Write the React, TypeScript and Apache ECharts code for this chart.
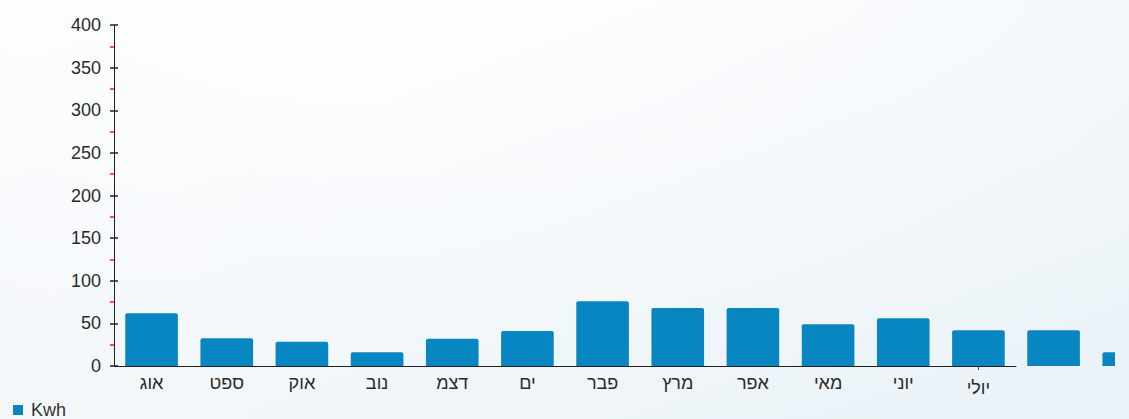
import React, { useEffect, useRef } from "react";
import * as echarts from "echarts";

const months = ["אוג", "ספט", "אוק", "נוב", "דצמ", "ים", "פבר", "מרץ", "אפר", "מאי", "יוני", "יולי"];
const barCategories = [...months, "13", "14"];
const kwh = [62, 32.5, 28.5, 16, 32, 41, 76, 68, 68, 49, 56, 42, 42, 16];
const seriesName = "Kwh";
const yMin = 0;
const yMax = 400;
const yInterval = 50;

const FONT = "'Liberation Sans', Arial, sans-serif";

export default function App() {
  const ref = useRef<HTMLDivElement>(null);
  useEffect(() => {
    if (!ref.current) return;
    const chart = echarts.init(ref.current, null, { renderer: "svg" });
    const catW = 902 / 12;
    chart.setOption({
      animation: false,
      backgroundColor: "transparent",
      textStyle: { fontFamily: FONT },
      legend: {
        left: 13,
        top: 401,
        padding: 0,
        icon: "rect",
        itemWidth: 10,
        itemHeight: 10,
        textStyle: { fontSize: 18, lineHeight: 18, color: "#333", fontFamily: FONT, padding: [0, 0, 0, 3] },
        data: [seriesName],
      },
      grid: [
        { left: 114, top: 25, width: 902, height: 341 },
        { left: 114, top: 25, width: catW * barCategories.length, height: 341 },
      ],
      xAxis: [
        {
          gridIndex: 0,
          type: "category",
          data: months,
          axisLine: { show: true, lineStyle: { color: "#222", width: 1 } },
          axisTick: {
            show: true,
            alignWithLabel: true,
            length: 4,
            interval: (i: number) => i === 11,
            lineStyle: { color: "#444" },
          },
          axisLabel: {
            interval: 0,
            margin: 8,
            fontSize: 18,
            color: "#2a2a2a",
            fontFamily: FONT,
            formatter: (v: string, i: number) => (i === 11 ? `{low|${v}}` : v),
            rich: { low: { padding: [5, 0, 0, 0], fontSize: 18, color: "#2a2a2a", fontFamily: FONT } },
          },
          splitLine: { show: false },
        },
        { gridIndex: 1, type: "category", data: barCategories, show: false },
      ],
      yAxis: [
        {
          gridIndex: 0,
          type: "value",
          min: yMin,
          max: yMax,
          interval: yInterval,
          axisLine: { show: true, lineStyle: { color: "#222", width: 1 } },
          axisTick: { show: true, length: 4, lineStyle: { color: "#222", width: 1.5 } },
          minorTick: { show: true, splitNumber: 2, length: 4, lineStyle: { color: "#ff1a1a", width: 1.5 } },
          axisLabel: { margin: 13, fontSize: 18, color: "#2a2a2a", fontFamily: FONT },
          splitLine: { show: false },
        },
        {
          gridIndex: 0,
          type: "value",
          min: yMin,
          max: yMax,
          interval: yInterval,
          position: "left",
          axisLine: { show: false },
          axisTick: { show: true, inside: true, length: 4, lineStyle: { color: "#222", width: 1.5 } },
          axisLabel: { show: false },
          splitLine: { show: false },
        },
        { gridIndex: 1, type: "value", min: yMin, max: yMax, show: false, splitLine: { show: false } },
      ],
      series: [
        {
          name: seriesName,
          type: "bar",
          xAxisIndex: 1,
          yAxisIndex: 2,
          data: kwh,
          barWidth: "70%",
          itemStyle: { color: "#0786c1", borderRadius: [2, 2, 0, 0] },
        },
      ],
    });
    return () => chart.dispose();
  }, []);
  return (
    <div
      style={{
        position: "fixed",
        left: 0,
        top: 0,
        width: 1129,
        height: 419,
        overflow: "hidden",
        background:
          "radial-gradient(ellipse 900px 500px at 380px -120px, rgba(255,255,255,0.9) 0%, rgba(255,255,255,0) 100%), linear-gradient(160deg, #f9fbfc 0%, #f4f8fb 45%, #eaf2f7 100%)",
      }}
    >
      <div style={{ position: "absolute", left: 0, top: 0, width: 1115, height: 419, overflow: "hidden" }}>
        <div ref={ref} style={{ position: "absolute", left: 0, top: 0, width: 1200, height: 419 }} />
      </div>
    </div>
  );
}
